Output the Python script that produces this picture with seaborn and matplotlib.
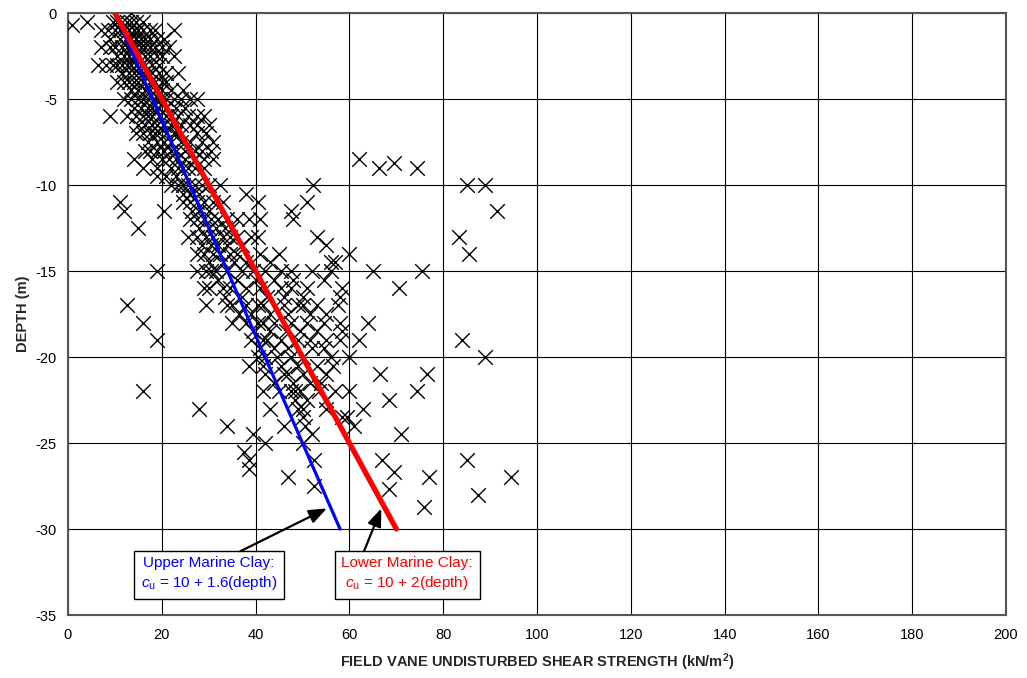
import matplotlib
matplotlib.use("Agg")
import matplotlib.pyplot as plt
import seaborn as sns
import pandas as pd

# Field vane readings, grouped by test depth (m): shear strength values (kN/m2)
vane_rows = {
    0.0: [13.5],
    -0.5: [4.0, 9.5, 10.5, 11.5, 12.5, 13.5, 14.5, 16.0],
    -0.7: [0.8],
    -1.0: [7.0, 8.5, 10.0, 11.0, 12.0, 13.0, 14.0, 15.0, 16.0, 17.5, 18.5, 22.5],
    -1.5: [9.0, 11.0, 12.5, 13.5, 14.5, 15.5, 16.5, 17.5, 19.0, 20.5],
    -2.0: [7.0, 9.0, 10.0, 11.5, 12.5, 13.5, 14.5, 15.5, 16.5, 17.5, 18.5, 20.0, 21.5],
    -2.5: [10.5, 12.0, 13.0, 14.0, 15.0, 16.5, 17.5, 19.0, 20.0, 22.5],
    -3.0: [6.5, 8.0, 9.5, 10.5, 11.5, 12.5, 13.5, 14.5, 15.5, 16.5, 18.0, 19.5],
    -3.5: [11.5, 13.0, 14.0, 15.0, 16.0, 17.0, 18.0, 19.5, 21.0, 23.5],
    -4.0: [10.5, 12.0, 13.0, 14.0, 15.0, 16.0, 17.5, 18.5, 20.0, 21.0],
    -4.5: [13.5, 15.0, 16.5, 17.5, 18.5, 20.0, 22.0, 24.5],
    -5.0: [12.0, 13.5, 15.0, 16.0, 17.0, 18.5, 19.5, 21.0, 22.5, 24.0, 26.0, 27.5],
    -5.5: [14.0, 15.5, 17.0, 18.0, 19.5, 21.0, 23.0, 25.0],
    -6.0: [9.0, 12.5, 14.5, 16.0, 17.0, 18.0, 19.5, 21.0, 22.0, 23.5, 25.5, 27.5, 29.0],
    -6.5: [15.0, 16.5, 18.0, 19.0, 20.5, 22.0, 24.0, 26.0, 27.5, 30.0],
    -7.0: [14.5, 16.0, 17.5, 18.5, 19.5, 21.0, 22.5, 23.0, 27.5, 29.5],
    -7.5: [17.0, 19.0, 20.5, 22.0, 24.0, 26.0, 28.5, 31.0],
    -8.0: [16.5, 17.5, 19.0, 20.5, 22.0, 23.0, 25.0, 27.0, 28.5, 30.5],
    -8.5: [14.0, 18.0, 20.0, 21.5, 23.0, 25.0, 27.0, 29.0, 31.0, 62.0],
    -8.7: [69.5],
    -9.0: [16.0, 19.0, 22.0, 23.5, 24.5, 25.5, 27.0, 29.0, 66.3, 74.5],
    -9.5: [19.0, 21.0, 23.0],
    -10.0: [22.0, 23.5, 24.5, 25.5, 27.0, 28.5, 30.0, 32.5, 52.3, 85.0, 89.0],
    -10.5: [24.5, 26.0, 28.0, 38.0],
    -11.0: [11.0, 24.5, 26.0, 27.5, 29.0, 31.0, 33.0, 40.5, 51.0],
    -11.5: [12.0, 20.5, 26.5, 28.0, 30.0, 47.5, 91.5],
    -12.0: [26.0, 27.5, 29.0, 30.5, 32.0, 34.0, 36.0, 38.5, 41.0, 48.0],
    -12.5: [15.0, 28.0, 30.0, 31.5, 33.5, 35.0],
    -13.0: [25.5, 27.5, 29.5, 31.0, 33.0, 34.5, 36.0, 39.0, 40.5, 53.0, 83.3],
    -13.5: [28.5, 30.5, 32.0, 34.0, 37.0, 55.0],
    -14.0: [27.5, 29.0, 31.0, 32.5, 34.5, 36.0, 41.0, 45.0, 60.0, 85.5],
    -14.5: [30.0, 33.0, 35.5, 38.0, 43.0, 56.0, 57.0],
    -15.0: [19.0, 27.5, 29.5, 30.5, 31.5, 34.0, 37.0, 39.5, 42.0, 45.5, 47.5, 52.0, 56.0, 65.0, 75.5],
    -15.5: [32.0, 36.0, 40.0, 44.0, 48.0, 54.5],
    -16.0: [29.0, 30.0, 33.0, 34.5, 38.0, 41.0, 45.5, 47.5, 51.0, 58.5, 70.5],
    -16.5: [33.5, 37.0, 42.5, 46.0, 50.0, 58.0],
    -17.0: [12.5, 29.5, 34.0, 35.0, 38.0, 40.5, 41.5, 46.0, 49.0, 50.0, 53.0, 57.5],
    -17.5: [36.5, 39.0, 43.0, 47.0, 51.5, 55.0],
    -18.0: [16.0, 35.0, 38.0, 40.5, 41.5, 44.0, 47.5, 51.0, 54.5, 58.0, 64.0],
    -18.5: [39.5, 43.0, 46.5, 49.5, 53.0, 58.5],
    -19.0: [19.0, 39.0, 41.5, 42.5, 45.5, 49.0, 51.5, 55.0, 58.0, 62.0, 84.0],
    -19.5: [41.0, 44.0, 47.0, 52.0, 54.5],
    -20.0: [40.5, 42.0, 44.5, 47.5, 50.0, 56.0, 60.0, 89.0],
    -20.5: [38.5, 41.5, 45.5, 49.0, 53.0, 56.5],
    -21.0: [42.0, 46.0, 47.0, 50.0, 55.0, 66.5, 76.5],
    -21.5: [44.0, 48.0, 51.5, 54.0],
    -22.0: [16.0, 41.5, 45.0, 47.5, 48.5, 49.5, 53.5, 57.0, 60.0, 74.5],
    -22.5: [48.5, 51.0, 55.0, 68.5],
    -23.0: [28.0, 43.0, 49.0, 50.0, 55.0, 63.0],
    -23.5: [50.0, 58.5, 59.5],
    -24.0: [34.0, 46.0, 50.5, 61.0],
    -24.5: [39.5, 52.0, 71.0],
    -25.0: [42.0, 50.0],
    -25.5: [37.5],
    -26.0: [38.5, 52.5, 67.0, 85.0],
    -26.5: [38.5],
    -26.7: [69.5],
    -27.0: [47.0, 77.0, 94.5],
    -27.5: [52.5],
    -27.7: [68.5],
    -28.0: [87.5],
    -28.7: [76.0],
}

# Design lines cu = 10 + k * depth
line_depth = [0, -30]
upper_clay_cu = [10, 58]   # 10 + 1.6 * 30
lower_clay_cu = [10, 70]   # 10 + 2 * 30

x_ticks = list(range(0, 201, 20))
y_ticks = list(range(-35, 1, 5))

depth = [d for d, xs in vane_rows.items() for _ in xs]
strength = [x for xs in vane_rows.values() for x in xs]
vane = pd.DataFrame({"strength": strength, "depth": depth})
lines = pd.DataFrame({
    "depth": line_depth * 2,
    "cu": upper_clay_cu + lower_clay_cu,
    "clay": ["upper"] * 2 + ["lower"] * 2,
})

sns.set_theme(style="white")
plt.rcParams["font.family"] = ["Liberation Sans", "DejaVu Sans"]
plt.rcParams["axes.unicode_minus"] = False
plt.rcParams["mathtext.fontset"] = "custom"
plt.rcParams["mathtext.rm"] = "Liberation Sans"
plt.rcParams["mathtext.it"] = "Liberation Sans:italic"
plt.rcParams["mathtext.bf"] = "Liberation Sans:bold"

fig = plt.figure(figsize=(10.27, 6.78), dpi=100)
ax = fig.add_axes([0.0662, 0.0929, 0.9134, 0.8879])

sns.scatterplot(data=vane, x="strength", y="depth", marker="x", color="black",
                s=110, linewidth=1.0, ax=ax, legend=False, zorder=3)
sns.lineplot(data=lines[lines.clay == "upper"], x="cu", y="depth", color="#0000ff",
             linewidth=2.3, ax=ax, sort=False, estimator=None, zorder=4)
sns.lineplot(data=lines[lines.clay == "lower"], x="cu", y="depth", color="#ff0000",
             linewidth=3.8, ax=ax, sort=False, estimator=None, zorder=5)

ax.set_xlim(0, 200)
ax.set_ylim(-35, 0)
ax.set_xticks(x_ticks)
ax.set_yticks(y_ticks)
ax.grid(True, color="black", linewidth=0.8)
ax.set_axisbelow(True)
for s in ax.spines.values():
    s.set_color("#555555")
    s.set_linewidth(1.5)
ax.tick_params(axis="both", length=0, labelsize=10.5, colors="black")
ax.tick_params(axis="x", pad=9)
ax.tick_params(axis="y", pad=8)
ax.set_xlabel("FIELD VANE UNDISTURBED SHEAR STRENGTH (kN/m$\\mathbf{^{2}}$)",
              fontsize=10.5, fontweight="bold", labelpad=7)
ax.set_ylabel("DEPTH (m)", fontsize=10.5, fontweight="bold", labelpad=4)

box = dict(boxstyle="square,pad=0.45", facecolor="white", edgecolor="black", linewidth=1)
arrow = dict(arrowstyle="-|>,head_length=0.9,head_width=0.35", color="black",
             linewidth=1.6, shrinkA=0, shrinkB=0)

# Leader arrows from the label boxes to the design lines
ax.annotate("", xy=(55.2, -28.8), xytext=(36.7, -31.3), arrowprops=arrow, zorder=6)
ax.annotate("", xy=(66.8, -28.8), xytext=(63.1, -31.3), arrowprops=arrow, zorder=6)

ax.text(30.0, -32.6, "Upper Marine Clay:\n$c_{\\rm u}$ = 10 + 1.6(depth)",
        ha="center", va="center", fontsize=11, color="#0000ff",
        bbox=box, zorder=7, linespacing=1.3)
ax.text(72.3, -32.6, "Lower Marine Clay:\n$c_{\\rm u}$ = 10 + 2(depth)",
        ha="center", va="center", fontsize=11, color="#ff0000",
        bbox=box, zorder=7, linespacing=1.3)

fig.savefig("out.png", dpi=100)
